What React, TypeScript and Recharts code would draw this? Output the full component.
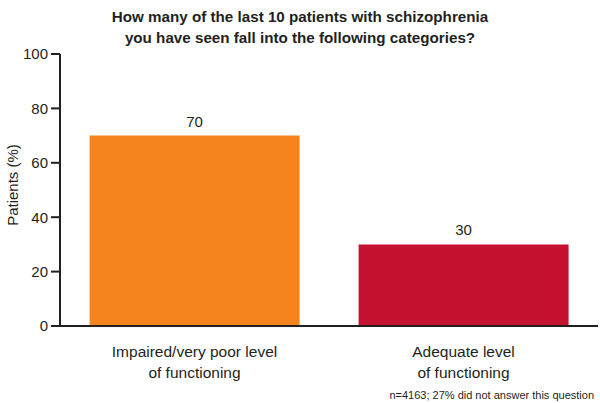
import { BarChart, Bar, XAxis, YAxis, Cell, LabelList, Label } from "recharts";

const categories = ["Impaired/very poor level\nof functioning", "Adequate level\nof functioning"];
const patients = [70, 30];
const barColors = ["#F5841F", "#C41230"];
const yTicks = [0, 20, 40, 60, 80, 100];

const titleLines = [
  "How many of the last 10 patients with schizophrenia",
  "you have seen fall into the following categories?",
];
const yLabel = "Patients (%)";
const footnote = "n=4163; 27% did not answer this question";

const data = categories.map((c, i) => ({ category: c, value: patients[i] }));

const FONT = "'Liberation Sans', Arial, Helvetica, sans-serif";
const INK = "#231f20";

// two-line category labels
const CategoryTick = (props: any) => {
  const { x, y, payload } = props;
  const lines = String(payload.value).split("\n");
  return (
    <g transform={`translate(${x},${y})`}>
      {lines.map((l, i) => (
        <text key={i} x={0} y={23 + i * 21} textAnchor="middle" fill={INK} fontSize={15.5} fontFamily={FONT}>
          {l}
        </text>
      ))}
    </g>
  );
};

const YTitle = (props: any) => {
  const vb = props.viewBox || { y: 54, height: 272 };
  const cy = vb.y + vb.height / 2 - 5;
  return (
    <text transform={`translate(18,${cy}) rotate(-90)`} textAnchor="middle" fill={INK} fontSize={15} fontFamily={FONT}>
      {yLabel}
    </text>
  );
};

export default function App() {
  return (
    <div style={{ position: "fixed", left: 0, top: 0, width: 600, height: 403, background: "#fff", fontFamily: FONT }}>
      <div style={{ position: "absolute", left: 0, top: 6, width: 600, textAlign: "center", fontWeight: "bold", fontSize: 15.2, lineHeight: "21px", color: INK }}>
        {titleLines.map((t) => (
          <div key={t}>{t}</div>
        ))}
      </div>
      <BarChart width={600} height={403} data={data} margin={{ top: 54, right: 2, left: 0, bottom: 0 }} barCategoryGap="11%">
        <YAxis
          width={60}
          domain={[0, 100]}
          ticks={yTicks}
          tickSize={9}
          tickMargin={3}
          axisLine={{ stroke: INK, strokeWidth: 2 }}
          tickLine={{ stroke: INK, strokeWidth: 2 }}
          tick={{ fill: INK, fontSize: 15, fontFamily: FONT }}
        >
          <Label content={<YTitle />} />
        </YAxis>
        <XAxis
          dataKey="category"
          height={77}
          tickLine={false}
          axisLine={{ stroke: INK, strokeWidth: 2 }}
          tick={<CategoryTick />}
          interval={0}
        />
        <Bar dataKey="value" isAnimationActive={false}>
          {data.map((d, i) => (
            <Cell key={d.category} fill={barColors[i]} />
          ))}
          <LabelList dataKey="value" position="top" offset={9} fill={INK} fontSize={15} fontFamily={FONT} />
        </Bar>
      </BarChart>
      <div style={{ position: "absolute", right: 6, top: 389, fontSize: 11, lineHeight: "13px", color: INK }}>{footnote}</div>
    </div>
  );
}
